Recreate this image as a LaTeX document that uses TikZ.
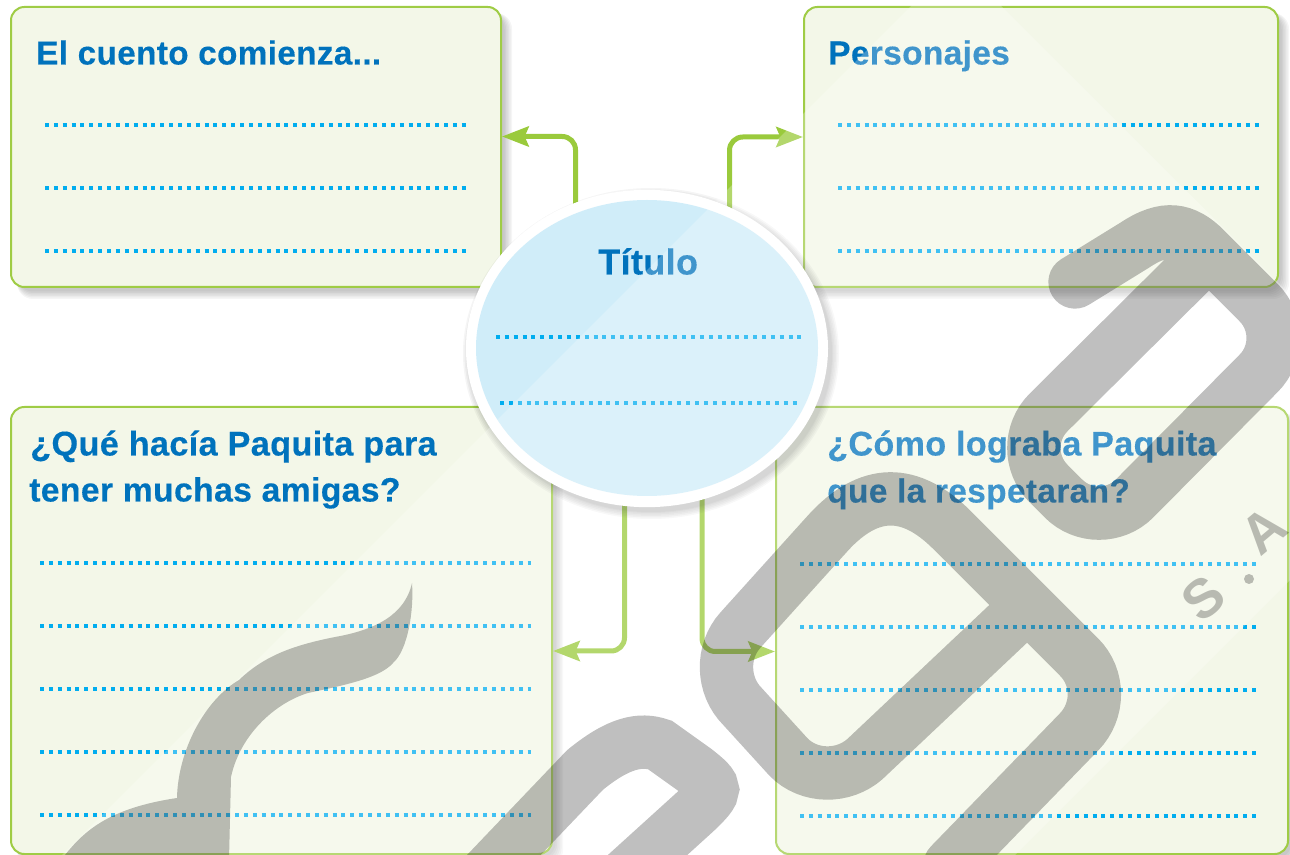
\documentclass[tikz,border=0pt]{standalone}
\usepackage{fontspec}
\setmainfont{Liberation Sans}
\newfontfamily\headfont[LetterSpace=1.0,FakeBold=0.3]{Liberation Sans Bold}
\usetikzlibrary{arrows.meta,calc,shapes.geometric}
\definecolor{boxfill}{HTML}{F3F7E8}
\definecolor{boxline}{HTML}{9FCC45}
\definecolor{connc}{HTML}{9ACA3C}
\definecolor{dotc}{HTML}{00ADEF}
\definecolor{headc}{HTML}{0072BC}
\definecolor{ovalc}{HTML}{D0EDF9}
\pgfdeclarelayer{shades}\pgfdeclarelayer{boxes}\pgfdeclarelayer{conns}\pgfdeclarelayer{oshade}\pgfdeclarelayer{over}
\pgfsetlayers{shades,boxes,conns,oshade,main,over}
\tikzset{
  x=0.75pt,y=-0.75pt,
  panel/.style={draw=boxline,line width=1.5pt,fill=boxfill,rectangle,rounded corners=10pt,inner sep=0pt},
  head/.style={anchor=base west,inner sep=0pt,text=headc,font=\headfont\fontsize{#1}{#1}\selectfont},
  dotline/.style={draw=dotc,line width=3pt,dash pattern=on 3pt off 3.65pt},
  conn/.style={draw=connc,line width=3.75pt,rounded corners=10pt,-{Stealth[length=20pt,width=15pt,inset=3pt]}},
  wm/.style={draw=black,draw opacity=.25,line width=40pt,line cap=round},
  wmf/.style={fill=black,fill opacity=.25},
  wmt/.style={text=black,text opacity=.25,inner sep=0pt,font=\bfseries\fontsize{41}{41}\selectfont}
}
\newcommand\softshade[1]{%
  \foreach \g in {9,7.5,6,4.5,3,1.5} {
    \fill[black,fill opacity=.04,rounded corners=12pt]
      ($(#1.north west)+(7,7)$) rectangle ($(#1.south east)+(1+\g,2+\g)$);
  }}
\begin{document}
\begin{tikzpicture}
\useasboundingbox (0,0) rectangle (1290,855);
\clip (0,0) rectangle (1290,855);
\begin{pgfonlayer}{boxes}
\node[panel,minimum width=367.5pt,minimum height=210pt] (boxA) at (256,147) {};
\node[panel,minimum width=355.5pt,minimum height=210pt] (boxB) at (1041,147) {};
\node[panel,minimum width=405.75pt,minimum height=335.25pt] (boxC) at (281.5,630.5) {};
\node[panel,minimum width=384pt,minimum height=335.25pt] (boxD) at (1032,630.5) {};
\end{pgfonlayer}
\begin{pgfonlayer}{shades}
\softshade{boxA}\softshade{boxB}\softshade{boxC}\softshade{boxD}
\end{pgfonlayer}
% oval
\node[ellipse,fill=white,inner sep=0pt,minimum width=271.5pt,minimum height=238pt] (title) at (647,348.5) {};
\node[ellipse,fill=ovalc,inner sep=0pt,minimum width=256.5pt,minimum height=222pt] (titlein) at (647,348) {};
\begin{pgfonlayer}{oshade}
\foreach \g in {7,5.5,4,2.5,1,0} {
  \fill[black,fill opacity=.04] ($(title.center)+(4,5)$) ellipse [x radius=181+\g,y radius=158.5+\g];
}
\end{pgfonlayer}
% connectors
\begin{pgfonlayer}{conns}
\coordinate (c1) at (575.5,136.5);
\coordinate (c2) at (729.5,137);
\coordinate (c3) at (624.5,651);
\coordinate (c4) at (702,651.5);
\draw[conn] (title.center -| c1) |- (boxA.east |- c1);
\draw[conn] (title.center -| c2) |- (boxB.west |- c2);
\draw[conn] (title.center -| c3) |- (boxC.east |- c3);
\draw[conn] (title.center -| c4) |- (boxD.west |- c4);
\end{pgfonlayer}
% headings
\node[head=25] (t1) at (36,64.5) {El cuento comienza...};
\node[head=25.1] (t2) at (828,64.5) {Personajes};
\node[head=27] (t3) at (598,274.5) {Título};
\node[head=25.7] (t4) at (30,455.5) {¿Qué hacía Paquita para};
\node[head=25.3] (t5) at (29,501.5) {tener muchas amigas?};
\node[head=25.6] (t6) at (827,455.5) {¿Cómo lograba Paquita};
\node[head=25.1] (t7) at (827,502.5) {que la respetaran?};
% writing lines
\foreach \y in {125,188,251} {\draw[dotline] (45,\y) -- (466,\y); \draw[dotline] (838,\y) -- (1259,\y);}
\foreach \y in {563,626,689,752,815} {\draw[dotline] (40,\y) -- (531,\y); \draw[dotline] (800,\y+1) -- (1257,\y+1);}
\draw[dotline] (496,337) -- (801,337);
\draw[dotline] (500,403) -- (797,403);
\begin{pgfonlayer}{over}
\fill[white,fill opacity=.25] (956,-39) -- (1433,437) -- (1015,855) -- (62,855) -- cycle;
% watermark
\draw[wm] (1075,282) -- (1135,245) .. controls (1165,225) and (1185,229) .. (1205,249) -- (1258.6,302.6)
  .. controls (1278,322) and (1278,354) .. (1258.6,373.4) -- (1134.4,498.6) .. controls (1115,518) and (1083,518) .. (1063.6,498.6)
  -- (1048.4,483.4) .. controls (1029,464) and (1029,432) .. (1048.4,412.6) -- (1209,253);
\draw[wm] (950,865) -- (1079,732) .. controls (1099.4,711) and (1099.6,677.6) .. (1079,657) -- (952,530)
  .. controls (910,488) and (869,488) .. (828,533) -- (740.5,630) .. controls (721,651.5) and (722,686) .. (742.5,706.5)
  -- (788.5,757) .. controls (809,778) and (843.6,778) .. (865,759) -- (1025,608);
\draw[wm] (480,880) -- (585,770) .. controls (618,743) and (640,738) .. (660,745) -- (695,770)
  .. controls (718,788) and (718,790) .. (695,812) -- (620,880);
\fill[wmf] (412,583) .. controls (414,610) and (408,650) .. (393,663) .. controls (380,678) and (345,685) .. (308,693)
  .. controls (275,703) and (240,735) .. (231,777) -- (229,860) -- (60,860) -- (65,855) .. controls (85,830) and (110,808) .. (177,798)
  .. controls (178,750) and (205,700) .. (239,680) .. controls (265,655) and (295,645) .. (335,637) .. controls (375,630) and (405,615) .. (412,583) -- cycle;
\node[wmt,rotate=40] (wS) at (1203,598) {S};
\fill[black,fill opacity=.25] (1249,579) circle (3.75pt);
\node[wmt,rotate=40] (wA) at (1264,530) {A};
\end{pgfonlayer}
\end{tikzpicture}
\end{document}
